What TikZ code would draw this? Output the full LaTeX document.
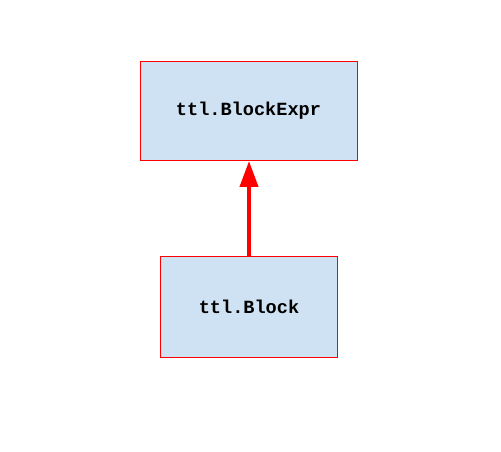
\documentclass[tikz,border=0pt]{standalone}
\usepackage{fontspec}
\setmonofont{Liberation Mono}
\usetikzlibrary{arrows.meta}
\definecolor{boxfill}{HTML}{CFE2F3}
\begin{document}
\begin{tikzpicture}[x=1pt,y=-1pt,
  blockbox/.style={draw=red, fill=boxfill, line width=0.9pt, inner sep=0pt,
    font=\ttfamily\bfseries\fontsize{18.6}{20}\selectfont},
  link/.style={draw=red, line width=4pt, -{Triangle[width=18pt,length=26pt]}}]
\useasboundingbox (0,0) rectangle (501,452);
\node[blockbox, minimum width=217pt, minimum height=99pt] (expr) at (248.5,111) {ttl.BlockExpr};
\node[blockbox, minimum width=177pt, minimum height=101pt] (blk) at (249,306.5) {ttl.Block};
\draw[link] (blk.north) -- (blk.north |- expr.south);
\end{tikzpicture}
\end{document}
